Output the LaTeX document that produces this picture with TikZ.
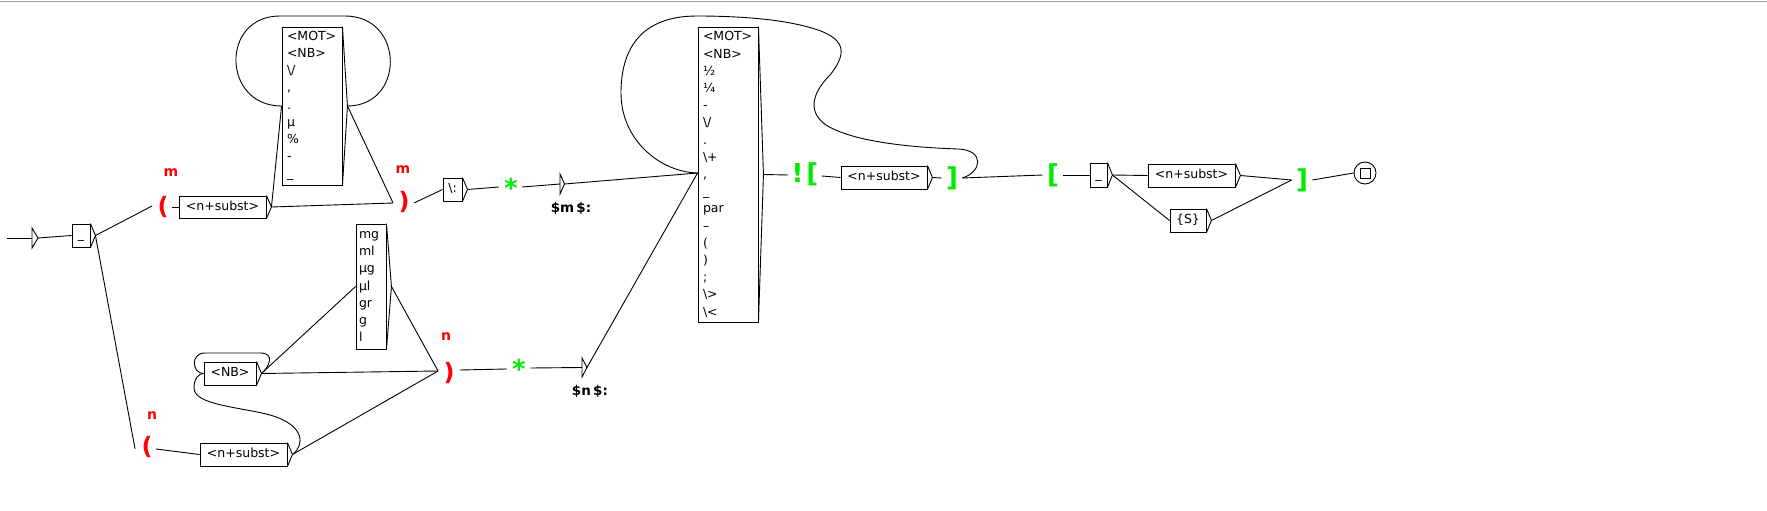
\documentclass[tikz,border=0pt]{standalone}
\usepackage{fontspec}
\newfontfamily\dv{DejaVu Sans}
\usetikzlibrary{calc}
\definecolor{vred}{RGB}{255,0,0}
\definecolor{vgreen}{RGB}{0,235,0}
\definecolor{topline}{RGB}{150,165,185}
\newcommand\uout[1]{\coordinate (#1o) at ($(#1.east)+(5,0)$); \draw (#1.north east) -- (#1o) -- (#1.south east);}
\begin{document}
\begin{tikzpicture}[x=1pt,y=-1pt, line width=0.9pt,
  ubox/.style={draw, inner sep=0pt, font={\dv\fontsize{12.5}{17.2}\selectfont}},
  sbox/.style={ubox, text height=9.5pt, text depth=3pt},
  mbox/.style={ubox, align=left, inner xsep=5pt},
  redmark/.style={text=vred, font={\dv\bfseries\fontsize{24}{24}\selectfont}, inner sep=0pt},
  greenmark/.style={text=vgreen, font={\dv\bfseries\fontsize{26}{26}\selectfont}, inner sep=0pt},
  redlab/.style={text=vred, font={\dv\bfseries\fontsize{14}{14}\selectfont}, inner sep=0pt},
  varlab/.style={font={\dv\bfseries\fontsize{13.5}{13.5}\selectfont}, inner sep=0pt},
]
\fill[white] (0,0) rectangle (1767,511);
\useasboundingbox (0,0) rectangle (1767,511);
\draw[topline, line width=1.5pt] (0,1.5) -- (1767,1.5);

% initial state
\coordinate (i0) at (7,238);
\coordinate (i1) at (32,238);
\coordinate (init) at (38,238);
\draw (i0) -- (i1);
\draw (32,228) -- (init) -- (32,248) -- cycle;

% boxes
\node[sbox, minimum width=18pt, minimum height=23pt] (u1) at (81,235.5) {\_};
\node[sbox, minimum width=87pt, minimum height=22pt] (s1) at (222.5,207) {<n+subst>};
\node[mbox, text width=50pt, minimum height=158pt] (A) at (312,106)
  {<MOT>\\<NB>\\\textbackslash/\\,\\.\\µ\\\%\\-\\\_};
\node[sbox, minimum width=19pt, minimum height=23pt] (colon) at (452.5,189.5) {\textbackslash:};
\node[sbox, minimum width=87pt, minimum height=23pt] (s2) at (243.5,454.5) {<n+subst>};
\node[sbox, minimum width=52pt, minimum height=23pt] (nb) at (230,373.5) {<NB>};
\node[mbox, text width=24pt, inner xsep=3pt, minimum height=125pt] (U) at (371,286.5)
  {mg\\ml\\µg\\µl\\gr\\g\\l};
\node[mbox, text width=50pt, minimum height=295pt] (C) at (728,174.5)
  {<MOT>\\<NB>\\½\\¼\\-\\\textbackslash/\\.\\\textbackslash+\\,\\\_\\par\\–\\(\\)\\;\\\textbackslash>\\\textbackslash<};
\node[sbox, minimum width=86pt, minimum height=23pt] (s4) at (884,177.5) {<n+subst>};
\node[sbox, minimum width=17pt, minimum height=24pt] (u2) at (1098.5,175) {\_};
\node[sbox, minimum width=87pt, minimum height=23pt] (s3) at (1191.5,175.5) {<n+subst>};
\node[sbox, minimum width=36pt, minimum height=23pt] (sb) at (1188,220.5) {\{S\}};

\uout{u1}\uout{s1}\uout{A}\uout{colon}\uout{s2}\uout{nb}\uout{U}\uout{C}\uout{s4}\uout{u2}\uout{s3}\uout{sb}

% red context marks
\node[redmark] (pm1) at (163,207) {(};
\node[redlab] (lm1) at (171,173) {m};
\node[redmark] (pm2) at (404,202) {)};
\node[redlab] (lm2) at (403,170) {m};
\node[redmark] (pn1) at (147,447) {(};
\node[redlab] (ln1) at (152,416) {n};
\node[redmark] (pn2) at (449,373) {)};
\node[redlab] (ln2) at (446,337) {n};

% green marks
\node[greenmark] (st1) at (511,188) {*};
\node[greenmark] (st2) at (519,369) {*};
\node[greenmark] (ng) at (805,174) {!\kern3pt[};
\node[greenmark] (g2) at (952,178) {]};
\node[greenmark] (g3) at (1053,175) {[};
\node[greenmark] (g4) at (1302,180) {]};

% variable ends
\coordinate (vmin) at (560,184);
\coordinate (vm) at (564.5,184);
\draw (560,174) -- (vm) -- (560,194) -- cycle;
\node[varlab] (vml) at (571,208) {\$m\,\$:};
\coordinate (vnin) at (582,367.5);
\coordinate (vn) at (587,367.5);
\draw (582,358) -- (vn) -- (582,377) -- cycle;
\node[varlab] (vnl) at (590,391) {\$n\,\$:};

% final state
\node[circle, draw, minimum size=22pt, inner sep=0pt] (fin) at (1365,173) {};
\node[draw, minimum size=10pt, inner sep=0pt] (finsq) at (fin.center) {};

% helper coordinates
\coordinate (Cin) at ($(C.west)+(0,-1.5)$);
\coordinate (pm2in) at ($(pm2.west)+(-5,1)$);
\coordinate (pn2in) at ($(pn2.west)+(-5,-2)$);
\coordinate (g2out) at ($(g2.east)+(4,0)$);
\coordinate (join) at ($(g4.west)+(-4,0)$);

% connectors
\draw (init) -- (u1.west);
\draw (u1o) -- ($(pm1.west)+(-5,-1)$);
\draw (u1o) -- ($(pn1.west)+(-6,2)$);
\draw ($(pm1.east)+(3,0)$) -- (s1.west);
\draw (s1o) -- (A.west);
\draw (s1o) -- (pm2in);
\draw (Ao) -- (pm2in);
\draw (Ao) .. controls (405,106) and (405,16) .. (345,16) -- (280,16)
      .. controls (220,16) and (222,106) .. (A.west);
\draw ($(pm2.east)+(4,1)$) -- (colon.west);
\draw (colono) -- ($(st1.west)+(-5,-1)$);
\draw ($(st1.east)+(4,-1)$) -- (vmin);
\draw (vm) -- (Cin);

\draw ($(pn1.east)+(3,2)$) -- (s2.west);
\draw (s2o) .. controls (305,445) and (305,425) .. (270,415)
      .. controls (240,407) and (194,405) .. (194,388)
      .. controls (194,378) and (199,373.5) .. (nb.west);
\draw (nbo) .. controls (270,366) and (275,353) .. (260,353) -- (205,353)
      .. controls (190,353) and (192,373.5) .. (nb.west);
\draw (nbo) -- (U.west);
\draw (nbo) -- (pn2in);
\draw (Uo) -- (pn2in);
\draw (s2o) -- (pn2in);
\draw ($(pn2.east)+(5,-3)$) -- ($(st2.west)+(-5,0)$);
\draw ($(st2.east)+(4,-1)$) -- (vnin);
\draw (vn) -- (Cin);

\draw (Co) -- ($(ng.west)+(-3,1)$);
\draw ($(ng.east)+(3,2)$) -- (s4.west);
\draw (s4o) -- ($(g2.west)+(-4,0)$);
\draw (g2out) -- ($(g3.west)+(-4,0)$);
\draw (g2out) .. controls (982,172) and (985,150) .. (958,149)
      .. controls (900,147) and (850,140) .. (826,125)
      .. controls (805,110) and (815,90) .. (830,75)
      .. controls (850,50) and (845,35) .. (800,25)
      .. controls (770,18) and (730,16) .. (697,16)
      .. controls (640,16) and (621,50) .. (621,93)
      .. controls (621,140) and (660,172) .. (Cin);
\draw ($(g3.east)+(4,0)$) -- (u2.west);
\draw (u2o) -- (s3.west);
\draw (u2o) -- (sb.west);
\draw (s3o) -- (join);
\draw (sbo) -- (join);
\draw ($(g4.east)+(4,0)$) -- (fin.west);
\end{tikzpicture}
\end{document}
